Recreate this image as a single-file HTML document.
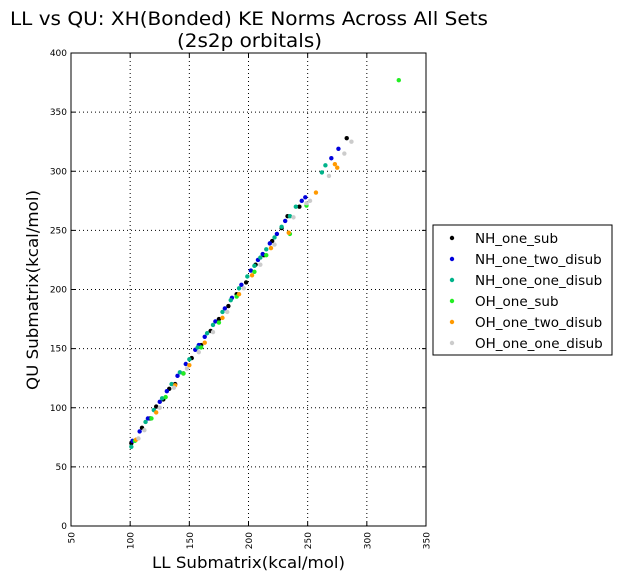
<!DOCTYPE html>
<html><head><meta charset="utf-8"><style>
body{margin:0;background:#fff;}
svg{display:block;font-family:"DejaVu Sans","Liberation Sans",sans-serif;}
</style></head><body>
<svg id="chart" width="622" height="581">
<text x="10" y="25" font-size="19" textLength="478" lengthAdjust="spacingAndGlyphs">LL vs QU: XH(Bonded) KE Norms Across All Sets</text>
<text x="177" y="47" font-size="19" textLength="145" lengthAdjust="spacingAndGlyphs">(2s2p orbitals)</text>
<text x="152" y="568" font-size="16" textLength="193" lengthAdjust="spacingAndGlyphs">LL Submatrix(kcal/mol)</text>
<text transform="translate(38,390) rotate(-90)" font-size="16" textLength="200" lengthAdjust="spacingAndGlyphs">QU Submatrix(kcal/mol)</text>
<g id="grid"></g><g id="pts"></g>
<rect x="71" y="53" width="355" height="473" fill="none" stroke="#000" stroke-width="1"/>
<g id="legend"></g>
</svg>
<script>
const xTicks=[50,100,150,200,250,300,350];
const yTicks=[0,50,100,150,200,250,300,350,400];
const seriesNames=["NH_one_sub","NH_one_two_disub","NH_one_one_disub","OH_one_sub","OH_one_two_disub","OH_one_one_disub"];
const seriesColors=["#000000","#0000dd","#00b38a","#22ee22","#ff9900","#cccccc"];
const nhSubX=[101,110,117,122,128,133,138,145,152,160,168,175,183,190,198,206,213,220,228,233,243,283];
const nhSubY=[70,83,91,101,107,116,120,129,142,153,165,175,186,196,206,221,229,241,252,262,270,328];
const nhTwoX=[102,108,115,125,131,140,147,155,158,163,172,180,186,194,202,208,212,218,224,231,245,248,270,276];
const nhTwoY=[72,80,91,105,114,127,137,149,153,160,173,184,193,204,216,225,230,239,247,258,275,278,311,319];
const nhOneX=[101,113,120,127,135,142,150,157,165,170,178,185,192,199,205,210,215,222,228,235,240,262,265];
const nhOneY=[67,88,98,108,120,130,141,151,163,170,181,191,201,211,220,227,234,244,253,262,270,299,305];
const ohSubX=[104,118,130,145,160,175,190,205,215,235,249,327];
const ohSubY=[72,91,109,129,151,172,194,215,229,247,271,377];
const ohTwoX=[105,122,138,150,163,178,192,203,219,234,257,273,275];
const ohTwoY=[73,96,119,136,155,176,196,212,235,248,282,306,303];
const ohOneX=[107,112,125,137,148,158,170,182,196,210,222,238,249,252,268,281,287];
const ohOneY=[74,81,100,117,133,147,164,181,201,221,238,261,273,275,296,315,325];
const seriesX=[nhSubX,nhTwoX,nhOneX,ohSubX,ohTwoX,ohOneX];
const seriesY=[nhSubY,nhTwoY,nhOneY,ohSubY,ohTwoY,ohOneY];
const NS="http://www.w3.org/2000/svg";
const X0=71,X1=426,Y0=526,Y1=53;
const sx=v=>X0+(v-50)/300*(X1-X0);
const sy=v=>Y0-(v-0)/400*(Y0-Y1);
function mk(tag,attrs,parent){const e=document.createElementNS(NS,tag);for(const k in attrs)e.setAttribute(k,attrs[k]);parent.appendChild(e);return e;}
const grid=document.getElementById('grid');
xTicks.forEach(t=>{
  const x=sx(t);
  const g=mk('line',{x1:x,x2:x,y1:Y0,y2:Y1,stroke:'#000','stroke-width':1,'stroke-dasharray':'1,3'},grid);
  
  
  mk('line',{x1:x,x2:x,y1:Y0,y2:Y0-4,stroke:'#000'},grid);
  mk('line',{x1:x,x2:x,y1:Y1,y2:Y1+4,stroke:'#000'},grid);
  const tx=mk('text',{transform:`translate(${x+3.5},${Y0+6}) rotate(-90)`,'font-size':9,'text-anchor':'end'},grid);
  tx.textContent=t;
  
  
});
yTicks.forEach(t=>{
  const y=sy(t);
  const g=mk('line',{x1:X0,x2:X1,y1:y,y2:y,stroke:'#000','stroke-width':1,'stroke-dasharray':'1,3'},grid);
  
  
  mk('line',{x1:X0,x2:X0+4,y1:y,y2:y,stroke:'#000'},grid);
  mk('line',{x1:X1,x2:X1-4,y1:y,y2:y,stroke:'#000'},grid);
  const tx=mk('text',{x:X0-4,y:y+3,'font-size':9,'text-anchor':'end'},grid);
  tx.textContent=t;
  
  
});
const pts=document.getElementById('pts');
seriesX.forEach((xs,i)=>{
  xs.forEach((v,j)=>{
    const c=mk('circle',{cx:sx(v),cy:sy(seriesY[i][j]),r:2.2,fill:seriesColors[i]},pts);
    
    
  });
});
const lg=document.getElementById('legend');
const box=mk('rect',{x:433,y:225,width:179,height:130,fill:'#fff',stroke:'#000'},lg);


seriesNames.forEach((n,i)=>{
  const y=238+i*21;
  mk('circle',{cx:452,cy:y,r:2.2,fill:seriesColors[i]},lg);
  const t=mk('text',{x:475,y:y+5,'font-size':13.5},lg);
  t.textContent=n;
  
  
});
</script>
</body></html>
